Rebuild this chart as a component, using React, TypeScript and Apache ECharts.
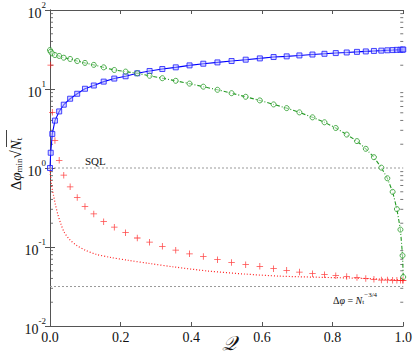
import React, { useEffect, useRef } from "react";
import * as echarts from "echarts";

// Shared Q grid of the marker series
const qGrid = [
  0, 0.002, 0.0065, 0.014, 0.026, 0.039, 0.057, 0.077, 0.099, 0.124,
  0.152, 0.182, 0.214, 0.247, 0.282, 0.318, 0.356, 0.395, 0.434, 0.474,
  0.514, 0.554, 0.594, 0.633, 0.67, 0.706, 0.743, 0.777, 0.809, 0.84,
  0.869, 0.894, 0.917, 0.938, 0.955, 0.97, 0.982, 0.992, 0.998, 1.0,
];

// Blue squares, solid line
const blueValues = [
  1.0, 1.56, 2.7, 3.98, 5.2, 6.33, 7.53, 8.7, 10.07, 11.07,
  12.4, 13.55, 14.5, 15.8, 16.9, 17.9, 18.8, 19.9, 20.9, 21.7,
  22.6, 23.5, 24.4, 25.4, 25.9, 26.6, 27.3, 27.9, 28.5, 29.0,
  29.5, 29.9, 30.3, 30.6, 30.9, 31.1, 31.3, 31.4, 31.5, 31.6,
];

// Green circles, dash-dot line
const greenValues = [
  31.1, 29.6, 28.2, 26.9, 26.2, 24.9, 24.0, 22.6, 21.4, 20.2,
  18.8, 17.4, 16.6, 15.8, 14.7, 13.7, 12.7, 11.7, 10.7, 9.77,
  8.85, 7.97, 7.17, 6.38, 5.73, 5.06, 4.38, 3.79, 3.21, 2.65,
  2.19, 1.75, 1.37, 1.01, 0.741, 0.499, 0.302, 0.166, 0.078, 0.0417,
];

// Red plus markers (no line)
const redPlusValues = [
  null, 20.1, 5.06, 2.23, 1.25, 0.81, 0.577, 0.424, 0.326, 0.262,
  0.209, 0.178, 0.152, 0.13, 0.115, 0.102, 0.0912, 0.082, 0.076, 0.069,
  0.0638, 0.0597, 0.0569, 0.0532, 0.0506, 0.0482, 0.046, 0.0447, 0.0434, 0.0422,
  0.041, 0.0398, 0.039, 0.0382, 0.0381, 0.0379, 0.0379, 0.0379, 0.0379, 0.0379,
];

// Red dotted curve
const dottedQ = [
  0, 0.001, 0.003, 0.006, 0.01, 0.015, 0.022, 0.03, 0.04, 0.055, 0.075, 0.1,
  0.13, 0.17, 0.22, 0.28, 0.35, 0.45, 0.55, 0.65, 0.75, 0.85, 0.95, 1.0,
];
const dottedValues = [
  1.0, 0.85, 0.68, 0.55, 0.45, 0.35, 0.26, 0.2, 0.155, 0.125, 0.105, 0.091,
  0.081, 0.074, 0.068, 0.062, 0.056, 0.0495, 0.0455, 0.0428, 0.0415, 0.0405, 0.039, 0.038,
];

const sqlLevel = 1;
const limitLevel = 0.0316;
const xRange = [0, 1];
const yRange = [0.01, 100];
const yMinorTicks = [
  0.02, 0.03, 0.04, 0.05, 0.06, 0.07, 0.08, 0.09,
  0.2, 0.3, 0.4, 0.5, 0.6, 0.7, 0.8, 0.9,
  2, 3, 4, 5, 6, 7, 8, 9,
  20, 30, 40, 50, 60, 70, 80, 90,
];

const SERIF = "'Liberation Serif', 'DejaVu Serif', serif";
const AXIS = "#555";
const PLUS = "path://M4.4,0H5.6V4.4H10V5.6H5.6V10H4.4V5.6H0V4.4H4.4Z";

export default function App() {
  const ref = useRef<HTMLDivElement>(null);
  useEffect(() => {
    document.body.style.margin = "0";
    if (!ref.current) return;
    const chart = echarts.init(ref.current, null, { renderer: "svg" });
    const pairs = (xs: number[], ys: (number | null)[]) =>
      xs.map((x, i) => [x, ys[i]]).filter((p) => p[1] !== null);

    const yLabel = (v: number) => {
      const e = Math.round(Math.log10(v));
      return `{b|10}{s|${e}}`;
    };

    const baseX = {
      type: "value" as const,
      min: xRange[0],
      max: xRange[1],
      interval: 0.2,
      splitLine: { show: false },
      axisLine: { show: true, lineStyle: { color: AXIS, width: 1 } },
      axisTick: { show: true, inside: true, length: 4, lineStyle: { color: AXIS } },
    };
    const baseY = {
      type: "log" as const,
      logBase: 10,
      min: yRange[0],
      max: yRange[1],
      splitLine: { show: false },
      axisLine: { show: true, lineStyle: { color: AXIS, width: 1 } },
      axisTick: { show: true, inside: true, length: 5, lineStyle: { color: AXIS } },
    };

    chart.setOption({
      animation: false,
      grid: { left: 50, right: 10, top: 8, bottom: 33, containLabel: false },
      xAxis: [
        {
          ...baseX,
          position: "bottom",
          axisLabel: {
            show: true,
            formatter: (v: number) => v.toFixed(1),
            fontFamily: SERIF,
            fontSize: 14,
            color: "#111",
            margin: 4,
          },
        },
        { ...baseX, position: "top", axisLabel: { show: false } },
      ],
      yAxis: [
        {
          ...baseY,
          position: "left",
          axisLabel: {
            show: true,
            formatter: yLabel,
            margin: 4,
            color: "#111",
            rich: {
              b: { fontFamily: SERIF, fontSize: 14, lineHeight: 20, verticalAlign: "bottom", color: "#111" },
              s: { fontFamily: SERIF, fontSize: 9, lineHeight: 12, verticalAlign: "top", color: "#111" },
            },
          },
        },
        { ...baseY, position: "right", axisLabel: { show: false } },
      ],
      series: [
        {
          type: "line",
          data: [[xRange[0], sqlLevel], [xRange[1], sqlLevel]],
          symbol: "none",
          lineStyle: { color: "#999", width: 1, type: [2, 2] },
          silent: true,
          z: 1,
        },
        {
          type: "line",
          data: [[xRange[0], limitLevel], [xRange[1], limitLevel]],
          symbol: "none",
          lineStyle: { color: "#999", width: 1, type: [2, 2] },
          silent: true,
          z: 1,
        },
        {
          type: "scatter",
          data: yMinorTicks.map((v) => [xRange[0], v]),
          symbol: "rect",
          symbolSize: [3, 1],
          symbolOffset: [1.5, 0],
          itemStyle: { color: AXIS },
          silent: true,
          z: 1,
        },
        {
          type: "scatter",
          yAxisIndex: 1,
          data: yMinorTicks.map((v) => [xRange[1], v]),
          symbol: "rect",
          symbolSize: [3, 1],
          symbolOffset: [-1.5, 0],
          itemStyle: { color: AXIS },
          silent: true,
          z: 1,
        },
        {
          type: "line",
          data: pairs(dottedQ, dottedValues),
          symbol: "none",
          smooth: 0.3,
          lineStyle: { color: "#ff2020", width: 1.2, type: [1, 2] },
          z: 2,
        },
        {
          type: "scatter",
          data: pairs(qGrid, redPlusValues),
          symbol: PLUS,
          symbolSize: 6.5,
          itemStyle: { color: "#ff1a1a" },
          z: 3,
        },
        {
          type: "line",
          data: pairs(qGrid, blueValues),
          symbol: "rect",
          symbolSize: 5,
          showAllSymbol: true,
          lineStyle: { color: "#0000ff", width: 1.1 },
          itemStyle: { color: "rgba(180,180,255,0.5)", borderColor: "#1a1aff", borderWidth: 0.8 },
          z: 4,
        },
        {
          type: "line",
          data: pairs(qGrid, greenValues),
          symbol: "circle",
          symbolSize: 5,
          showAllSymbol: true,
          lineStyle: { color: "#229922", width: 1.1, type: [4, 2, 1, 2] },
          itemStyle: { color: "rgba(255,255,255,0.5)", borderColor: "#229922", borderWidth: 0.8 },
          z: 5,
        },
      ],
      graphic: [
        {
          type: "text",
          left: 85,
          top: 155,
          style: { text: "SQL", font: `11px ${SERIF}`, fill: "#111" },
          silent: true,
        },
        {
          type: "text",
          left: 333,
          top: 291,
          style: {
            text: "{n|Δ}{i|φ}{n| = }{i|N}{sub|t}{sup|−3/4}",
            rich: {
              n: { font: `10px ${SERIF}`, fill: "#111", verticalAlign: "bottom", lineHeight: 14 },
              i: { font: `italic 10px ${SERIF}`, fill: "#111", verticalAlign: "bottom", lineHeight: 14 },
              sub: { font: `7px ${SERIF}`, fill: "#111", verticalAlign: "bottom", lineHeight: 11 },
              sup: { font: `7px ${SERIF}`, fill: "#111", verticalAlign: "top", lineHeight: 8 },
            },
          },
          silent: true,
        },
        {
          type: "text",
          left: 222,
          top: 333,
          style: { text: "𝒬", font: `italic 20px 'DejaVu Sans', ${SERIF}`, fill: "#111" },
          silent: true,
        },
        {
          type: "group",
          x: 14,
          y: 164,
          rotation: Math.PI / 2,
          children: [
            {
              type: "text",
              x: 0,
              y: 0,
              style: {
                text: "{n|Δ}{i|φ}{sub|min}{n|√}{i|N}{sub|t}",
                align: "center",
                verticalAlign: "middle",
                rich: {
                  n: { font: `15px ${SERIF}`, fill: "#111", verticalAlign: "bottom", lineHeight: 19 },
                  i: { font: `italic 15px ${SERIF}`, fill: "#111", verticalAlign: "bottom", lineHeight: 19 },
                  sub: { font: `9px ${SERIF}`, fill: "#111", verticalAlign: "bottom", lineHeight: 13 },
                },
              },
            },
            {
              type: "line",
              shape: { x1: 17, y1: -7.5, x2: 34, y2: -7.5 },
              style: { stroke: "#111", lineWidth: 0.8 },
            },
          ],
          silent: true,
        },
      ],
    });
    return () => chart.dispose();
  }, []);
  return <div ref={ref} style={{ width: 415, height: 359 }} />;
}
